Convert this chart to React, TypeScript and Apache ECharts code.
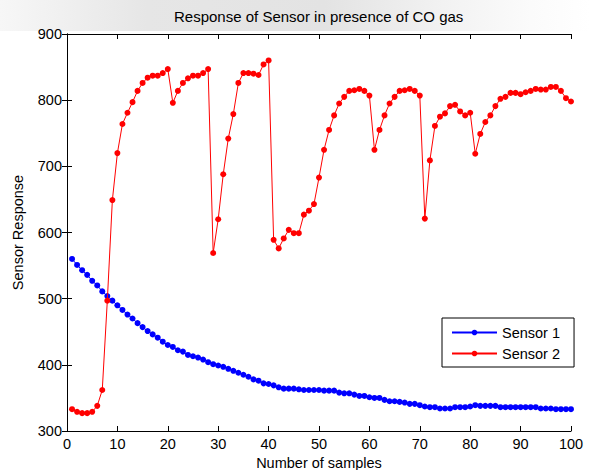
import React, { useEffect, useRef } from "react";
import * as echarts from "echarts";

const samples = [
  1, 2, 3, 4, 5, 6, 7, 8, 9, 10, 11, 12, 13, 14, 15, 16, 17, 18, 19, 20,
  21, 22, 23, 24, 25, 26, 27, 28, 29, 30, 31, 32, 33, 34, 35, 36, 37, 38, 39, 40,
  41, 42, 43, 44, 45, 46, 47, 48, 49, 50, 51, 52, 53, 54, 55, 56, 57, 58, 59, 60,
  61, 62, 63, 64, 65, 66, 67, 68, 69, 70, 71, 72, 73, 74, 75, 76, 77, 78, 79, 80,
  81, 82, 83, 84, 85, 86, 87, 88, 89, 90, 91, 92, 93, 94, 95, 96, 97, 98, 99, 100,
];

const sensor1 = [
  560, 551, 543, 536, 527, 520, 511, 504, 497, 490,
  483, 476, 470, 463, 457, 451, 446, 441, 435, 430,
  427, 422, 420, 415, 413, 411, 408, 404, 401, 399,
  397, 394, 391, 388, 385, 382, 378, 376, 372, 371,
  369, 366, 364, 364, 364, 363, 362, 362, 362, 362,
  361, 361, 361, 358, 357, 357, 355, 353, 353, 351,
  350, 350, 347, 345, 345, 344, 343, 341, 341, 339,
  337, 336, 336, 334, 334, 334, 336, 336, 336, 337,
  339, 338, 338, 338, 338, 336, 336, 336, 336, 336,
  336, 336, 336, 334, 334, 334, 333, 333, 333, 333,
];

const sensor2 = [
  333, 329, 327, 327, 329, 338, 362, 497, 649, 720,
  764, 781, 797, 814, 826, 834, 837, 837, 841, 847,
  796, 814, 826, 833, 837, 837, 841, 847, 569, 620,
  688, 742, 779, 826, 841, 841, 840, 838, 854, 860,
  589, 576, 591, 604, 599, 599, 627, 633, 643, 683,
  725, 755, 777, 795, 805, 814, 815, 817, 814, 807,
  725, 755, 777, 795, 805, 814, 815, 817, 814, 807,
  621, 709, 761, 775, 780, 791, 793, 783, 777, 781,
  719, 749, 767, 777, 791, 802, 805, 811, 811, 809,
  812, 814, 817, 816, 816, 820, 820, 814, 803, 798,
];

const xTicks = { min: 0, max: 100, interval: 10 };
const yTicks = { min: 300, max: 900, interval: 100 };

const FONT = "'Liberation Sans', Arial, Helvetica, sans-serif";

export default function App() {
  const ref = useRef<HTMLDivElement>(null);

  useEffect(() => {
    if (!ref.current) return;
    const chart = echarts.init(ref.current, undefined, { renderer: "svg" });

    const axisCommon = {
      axisLine: { show: true, lineStyle: { color: "#000", width: 1 } },
      axisTick: { show: true, inside: true, length: 5, lineStyle: { color: "#000" } },
      splitLine: { show: false },
    };

    chart.setOption({
      animation: false,
      backgroundColor: "#fff",
      textStyle: { fontFamily: FONT },
      graphic: [
        {
          type: "rect",
          z: 0,
          silent: true,
          shape: { x: 0, y: 0, width: 590, height: 31 },
          style: {
            fill: new echarts.graphic.LinearGradient(0, 0, 1, 0, [
              { offset: 0, color: "#f7f7f7" },
              { offset: 0.25, color: "#e6e6e6" },
              { offset: 0.55, color: "#e3e3e3" },
              { offset: 0.75, color: "#f2f2f2" },
              { offset: 0.9, color: "#fbfbfb" },
              { offset: 1, color: "#ffffff" },
            ]),
          },
        },
      ],
      title: {
        text: "Response of Sensor in presence of CO gas",
        left: 174,
        top: 9,
        padding: 0,
        textStyle: { fontFamily: FONT, fontSize: 15, fontWeight: "normal", color: "#000" },
      },
      grid: {
        left: 67,
        right: 19,
        top: 34,
        bottom: 39,
        containLabel: false,
        outerBoundsMode: "none",
      },
      legend: {
        orient: "vertical",
        left: 442,
        top: 318,
        padding: [7, 14, 6, 9],
        itemGap: 6,
        itemWidth: 45,
        itemHeight: 7,
        backgroundColor: "#fff",
        borderColor: "#000",
        borderWidth: 1,
        borderRadius: 0,
        textStyle: { fontFamily: FONT, fontSize: 14.5, color: "#000" },
        data: ["Sensor 1", "Sensor 2"],
      },
      xAxis: [
        {
          type: "value",
          position: "bottom",
          ...xTicks,
          ...axisCommon,
          axisLabel: { color: "#000", fontSize: 14.5, margin: 5, fontFamily: FONT },
          name: "Number of samples",
          nameLocation: "middle",
          nameGap: 21,
          nameTextStyle: { color: "#000", fontSize: 14.5, fontFamily: FONT, verticalAlign: "top" },
        },
        {
          type: "value",
          position: "top",
          ...xTicks,
          ...axisCommon,
          axisLabel: { show: false },
        },
      ],
      yAxis: [
        {
          type: "value",
          position: "left",
          ...yTicks,
          ...axisCommon,
          axisLabel: { color: "#000", fontSize: 14.5, margin: 5, fontFamily: FONT },
          name: "Sensor Response",
          nameLocation: "middle",
          nameGap: 42,
          nameTextStyle: { color: "#000", fontSize: 14.5, fontFamily: FONT },
        },
        {
          type: "value",
          position: "right",
          ...yTicks,
          ...axisCommon,
          axisLabel: { show: false },
        },
      ],
      series: [
        {
          name: "Sensor 1",
          type: "line",
          xAxisIndex: 0,
          yAxisIndex: 0,
          data: samples.map((s, i) => [s, sensor1[i]]),
          symbol: "circle",
          symbolSize: 6,
          showSymbol: true,
          lineStyle: { color: "#0000ff", width: 1 },
          itemStyle: { color: "#0000ff" },
          z: 3,
        },
        {
          name: "Sensor 2",
          type: "line",
          xAxisIndex: 0,
          yAxisIndex: 0,
          data: samples.map((s, i) => [s, sensor2[i]]),
          symbol: "circle",
          symbolSize: 6,
          showSymbol: true,
          lineStyle: { color: "#ff0000", width: 1 },
          itemStyle: { color: "#ff0000" },
          z: 4,
        },
      ],
    });

    return () => chart.dispose();
  }, []);

  return (
    <div
      ref={ref}
      style={{ position: "absolute", left: 0, top: 0, width: 590, height: 470, background: "#fff" }}
    />
  );
}
